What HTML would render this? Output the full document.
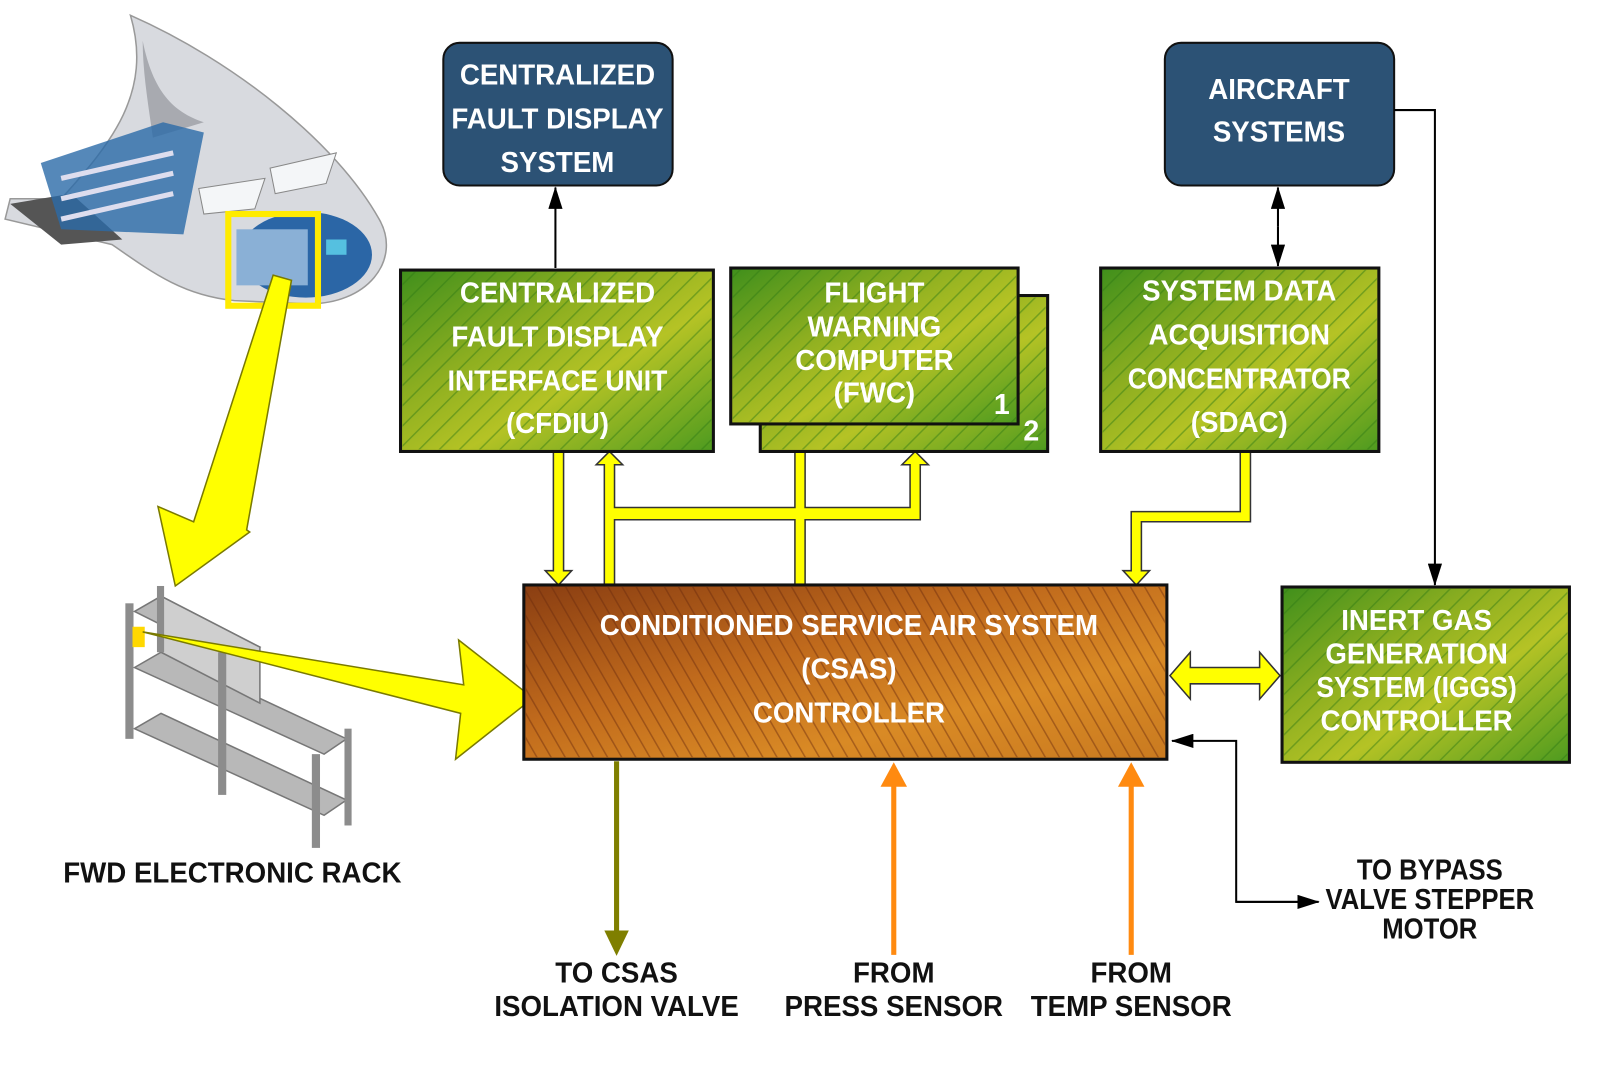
<!DOCTYPE html>
<html><head><meta charset="utf-8"><style>
html,body{margin:0;padding:0;background:#fff;}
svg{display:block;}
text{font-family:"Liberation Sans Narrow","Liberation Sans",sans-serif;font-weight:bold;text-anchor:middle;}
.w{fill:#fff;font-size:28px;}
.k{fill:#111;font-size:28px;}
</style></head><body>
<svg width="1599" height="1067" viewBox="0 0 1569 1047" xmlns="http://www.w3.org/2000/svg">
<defs>
<linearGradient id="gr" x1="0" y1="0" x2="1" y2="1">
<stop offset="0" stop-color="#3f8f1c"/><stop offset="0.35" stop-color="#8cae20"/><stop offset="0.6" stop-color="#b5c325"/><stop offset="1" stop-color="#4d9a1f"/>
</linearGradient>
<linearGradient id="or" x1="0" y1="0" x2="1" y2="1">
<stop offset="0" stop-color="#8a3e12"/><stop offset="0.4" stop-color="#c06a1c"/><stop offset="0.7" stop-color="#d98a25"/><stop offset="1" stop-color="#c97a20"/>
</linearGradient>
<pattern id="tr" width="14" height="14" patternUnits="userSpaceOnUse" patternTransform="rotate(45)">
<line x1="0" y1="0" x2="0" y2="14" stroke="#2e7a14" stroke-width="3" opacity="0.45"/>
</pattern>
<pattern id="tro" width="12" height="12" patternUnits="userSpaceOnUse" patternTransform="rotate(-30)">
<line x1="0" y1="0" x2="0" y2="12" stroke="#6a2a0c" stroke-width="3" opacity="0.45"/>
</pattern>
<marker id="ab2" markerWidth="22" markerHeight="14" refX="21" refY="7" orient="auto" markerUnits="userSpaceOnUse"><path d="M0,0 L22,7 L0,14 z" fill="#000"/></marker>
</defs>

<!-- aircraft nose illustration -->
<path d="M128,15 C230,60 330,140 372,215 C395,255 360,300 300,298 L230,295 C180,290 150,268 110,240 L5,215 L10,195 L60,195 C110,140 150,90 128,15 Z" fill="#d8dadf" stroke="#999" stroke-width="1.5"/>
<path d="M140,40 C150,90 170,110 200,120 L150,135 C145,100 140,70 140,40 Z" fill="#a8aab0"/>
<path d="M10,200 L70,190 L120,235 L60,240 Z" fill="#555"/>
<path d="M40,160 L160,120 L200,130 L180,230 L60,225 Z" fill="#2a6aa8" opacity="0.8"/>
<path d="M60,175 L170,150 M60,195 L170,170 M60,215 L170,190" stroke="#dde" stroke-width="5"/>
<path d="M195,185 L260,175 L250,205 L200,210 Z M265,165 L330,150 L320,180 L270,190 Z" fill="#f4f6f8" stroke="#888"/>
<ellipse cx="300" cy="250" rx="65" ry="42" fill="#2b66a6"/>
<rect x="232" y="225" width="70" height="55" fill="#8ab0d6"/>
<rect x="320" y="235" width="20" height="15" fill="#55c0e0"/>
<rect x="224" y="210" width="88" height="90" fill="none" stroke="#ffeb00" stroke-width="6"/>
<path d="M268,270 L286,275 L242,520 L245,522 L172,575 L155,497 L190,512 Z" fill="#ffff00" stroke="#7a7a00" stroke-width="1.5"/>

<!-- rack -->
<g fill="#b8b8b8" stroke="#777" stroke-width="1.5">
<path d="M132,600 L158,585 L255,635 L232,650 Z"/>
<path d="M132,655 L158,640 L340,725 L318,740 Z"/>
<path d="M132,715 L158,700 L340,785 L318,800 Z"/>
<path d="M158,585 L255,635 L255,690 L158,640 Z" fill="#cfcfcf"/>
</g>
<g fill="#8c8c8c">
<rect x="123" y="592" width="8" height="133"/><rect x="154" y="575" width="7" height="65"/>
<rect x="214" y="640" width="8" height="140"/><rect x="306" y="740" width="8" height="92"/>
<rect x="338" y="715" width="7" height="95"/>
</g>
<rect x="130" y="615" width="12" height="20" fill="#ffd800"/>
<path d="M140,620 L455,672 L450,628 L523,685 L447,745 L452,700 Z" fill="#ffff00" stroke="#7a7a00" stroke-width="1.5"/>
<text class="k" transform="translate(228,866) scale(0.97,1)" font-size="27">FWD ELECTRONIC RACK</text>

<!-- CFDS -->
<rect x="435" y="42" width="225" height="140" rx="16" fill="#2c5275" stroke="#111" stroke-width="2"/>
<text class="w" transform="translate(547,83) scale(0.97,1)">CENTRALIZED</text>
<text class="w" transform="translate(547,126) scale(0.97,1)">FAULT DISPLAY</text>
<text class="w" transform="translate(547,169) scale(0.97,1)">SYSTEM</text>
<!-- Aircraft systems -->
<rect x="1143" y="42" width="225" height="140" rx="16" fill="#2c5275" stroke="#111" stroke-width="2"/>
<text class="w" transform="translate(1255,97) scale(0.97,1)">AIRCRAFT</text>
<text class="w" transform="translate(1255,139) scale(0.97,1)">SYSTEMS</text>

<!-- black connectors -->
<line x1="545" y1="263" x2="545" y2="184" stroke="#000" stroke-width="2" marker-end="url(#ab2)"/>
<line x1="1254" y1="222" x2="1254" y2="184" stroke="#000" stroke-width="2" marker-end="url(#ab2)"/>
<line x1="1254" y1="222" x2="1254" y2="261" stroke="#000" stroke-width="2" marker-end="url(#ab2)"/>
<polyline points="1368,108 1408,108 1408,574" fill="none" stroke="#000" stroke-width="2" marker-end="url(#ab2)"/>
<polyline points="1293,885 1213,885 1213,727 1150,727" fill="none" stroke="#000" stroke-width="2" marker-end="url(#ab2)"/>
<line x1="1213" y1="885" x2="1294" y2="885" stroke="#000" stroke-width="2" marker-end="url(#ab2)"/>

<!-- yellow bus -->
<g fill="#ffff00" stroke="#333" stroke-width="1.5">
<path d="M543,443 L553,443 L553,560 L561,560 L548,574 L535,560 L543,560 Z"/>
<path d="M593,574 L593,456 L585,456 L598,443 L611,456 L603,456 L603,498 L780,498 L780,429 L772,429 L785,416 L798,429 L790,429 L790,498 L893,498 L893,456 L885,456 L898,443 L911,456 L903,456 L903,510 L790,510 L790,574 L780,574 L780,510 L603,510 L603,574 Z"/>
<path d="M1217,443 L1227,443 L1227,512 L1120,512 L1120,560 L1128,560 L1115,574 L1102,560 L1110,560 L1110,502 L1217,502 Z"/>
<path d="M1148,663 L1168,640 L1168,655 L1236,655 L1236,640 L1256,663 L1236,686 L1236,671 L1168,671 L1168,686 Z"/>
</g>

<!-- CFDIU -->
<rect x="393" y="265" width="307" height="178" fill="url(#gr)" stroke="#111" stroke-width="3"/>
<rect x="395" y="267" width="303" height="174" fill="url(#tr)"/>
<text class="w" transform="translate(547,297) scale(0.97,1)">CENTRALIZED</text>
<text class="w" transform="translate(547,340) scale(0.97,1)">FAULT DISPLAY</text>
<text class="w" transform="translate(547,383) scale(0.93,1)">INTERFACE UNIT</text>
<text class="w" transform="translate(547,425) scale(0.97,1)">(CFDIU)</text>
<!-- FWC 2 -->
<rect x="746" y="290" width="282" height="153" fill="url(#gr)" stroke="#111" stroke-width="3"/>
<rect x="748" y="292" width="278" height="149" fill="url(#tr)"/>
<text class="w" x="1012" y="432" font-size="24">2</text>
<!-- FWC 1 -->
<rect x="717" y="263" width="282" height="153" fill="url(#gr)" stroke="#111" stroke-width="3"/>
<rect x="719" y="265" width="278" height="149" fill="url(#tr)"/>
<text class="w" transform="translate(858,297) scale(0.97,1)">FLIGHT</text>
<text class="w" transform="translate(858,330) scale(0.97,1)">WARNING</text>
<text class="w" transform="translate(858,363) scale(0.97,1)">COMPUTER</text>
<text class="w" transform="translate(858,395) scale(0.97,1)">(FWC)</text>
<text class="w" x="983" y="406" font-size="24">1</text>
<!-- SDAC -->
<rect x="1080" y="263" width="273" height="180" fill="url(#gr)" stroke="#111" stroke-width="3"/>
<rect x="1082" y="265" width="269" height="176" fill="url(#tr)"/>
<text class="w" transform="translate(1216,295) scale(0.97,1)">SYSTEM DATA</text>
<text class="w" transform="translate(1216,338) scale(0.97,1)">ACQUISITION</text>
<text class="w" transform="translate(1216,381) scale(0.93,1)">CONCENTRATOR</text>
<text class="w" transform="translate(1216,424) scale(0.97,1)">(SDAC)</text>
<!-- CSAS -->
<rect x="514" y="574" width="631" height="171" fill="url(#or)" stroke="#111" stroke-width="3"/>
<rect x="516" y="576" width="627" height="167" fill="url(#tro)"/>
<text class="w" transform="translate(833,623) scale(0.97,1)">CONDITIONED SERVICE AIR SYSTEM</text>
<text class="w" transform="translate(833,666) scale(0.97,1)">(CSAS)</text>
<text class="w" transform="translate(833,709) scale(0.97,1)">CONTROLLER</text>
<!-- IGGS -->
<rect x="1258" y="576" width="282" height="172" fill="url(#gr)" stroke="#111" stroke-width="3"/>
<rect x="1260" y="578" width="278" height="168" fill="url(#tr)"/>
<text class="w" transform="translate(1390,618) scale(0.97,1)">INERT GAS</text>
<text class="w" transform="translate(1390,651) scale(0.97,1)">GENERATION</text>
<text class="w" transform="translate(1390,684) scale(0.93,1)">SYSTEM (IGGS)</text>
<text class="w" transform="translate(1390,717) scale(0.97,1)">CONTROLLER</text>

<!-- bottom arrows -->
<line x1="605" y1="747" x2="605" y2="915" stroke="#7f7f00" stroke-width="5"/>
<path d="M593,913 L617,913 L605,938 Z" fill="#7f7f00"/>
<line x1="877" y1="937" x2="877" y2="770" stroke="#ff8a10" stroke-width="5"/>
<path d="M864,772 L890,772 L877,748 Z" fill="#ff8a10"/>
<line x1="1110" y1="937" x2="1110" y2="770" stroke="#ff8a10" stroke-width="5"/>
<path d="M1097,772 L1123,772 L1110,748 Z" fill="#ff8a10"/>

<text class="k" transform="translate(605,964) scale(0.97,1)">TO CSAS</text>
<text class="k" transform="translate(605,997) scale(0.97,1)">ISOLATION VALVE</text>
<text class="k" transform="translate(877,964) scale(0.97,1)">FROM</text>
<text class="k" transform="translate(877,997) scale(0.97,1)">PRESS SENSOR</text>
<text class="k" transform="translate(1110,964) scale(0.97,1)">FROM</text>
<text class="k" transform="translate(1110,997) scale(0.97,1)">TEMP SENSOR</text>
<text class="k" transform="translate(1403,863) scale(0.9,1)" font-size="25">TO BYPASS</text>
<text class="k" transform="translate(1403,892) scale(0.9,1)" font-size="25">VALVE STEPPER</text>
<text class="k" transform="translate(1403,921) scale(0.9,1)" font-size="25">MOTOR</text>
</svg>
</body></html>
